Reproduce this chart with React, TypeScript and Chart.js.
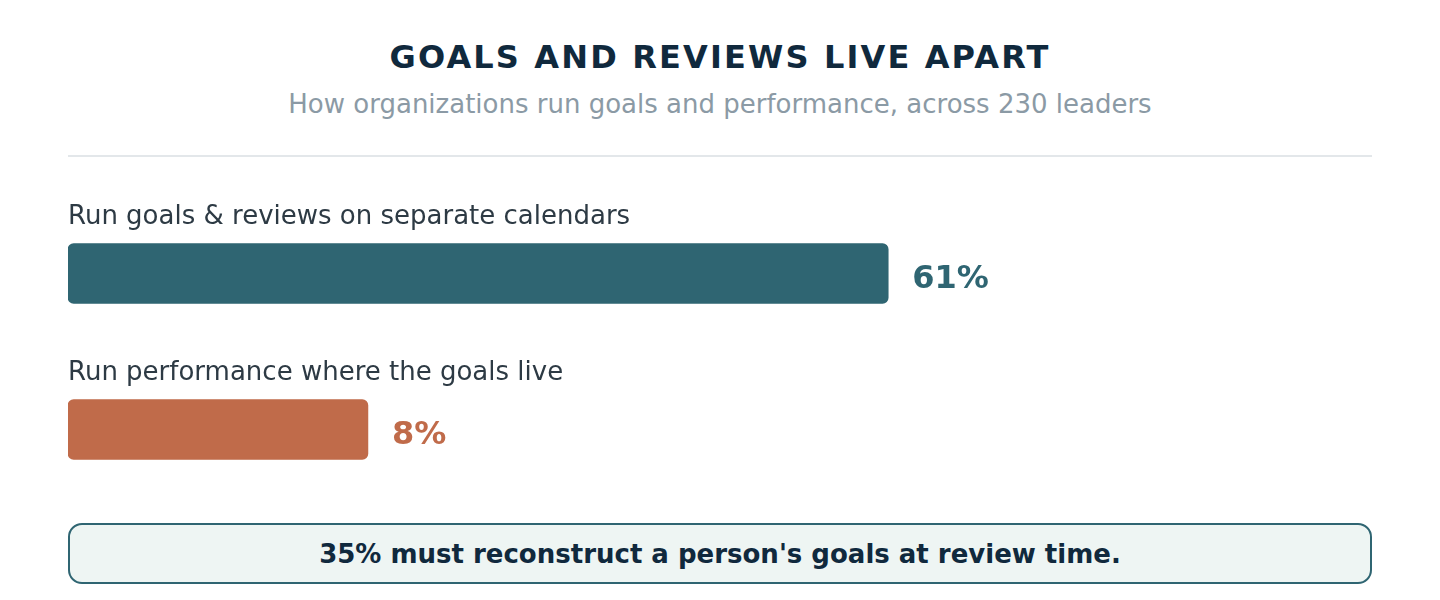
import { useEffect, useRef } from 'react';
import { Chart, registerables } from 'chart.js';

Chart.register(...registerables);

// survey answers, share of 230 leaders
const categories = ['Run goals & reviews on separate calendars', 'Run performance where the goals live'];
const shares = [61, 8];
// drawn bar length on a 0-100 track (the short bar is drawn wider than its share)
const barLengths = [62.9, 23];
const barColors = ['#2f6572', '#c06b4a'];

const FONT = '"DejaVu Sans", Verdana, sans-serif';

const labelPlugin = {
  id: 'barLabels',
  afterDatasetsDraw(chart: Chart) {
    const { ctx, chartArea } = chart;
    const meta = chart.getDatasetMeta(0);
    ctx.save();
    meta.data.forEach((bar: any, i: number) => {
      const top = bar.y - bar.height / 2;
      ctx.font = `26px ${FONT}`;
      ctx.fillStyle = '#2d3a44';
      ctx.textAlign = 'left';
      ctx.textBaseline = 'alphabetic';
      ctx.fillText(categories[i], chartArea.left, top - 20);

      ctx.font = `bold 32px ${FONT}`;
      ctx.fillStyle = barColors[i];
      ctx.fillText(`${shares[i]}%`, bar.x + 24, bar.y + 14.5);
    });
    ctx.restore();
  },
};

export default function App() {
  const canvasRef = useRef<HTMLCanvasElement>(null);
  const chartRef = useRef<Chart | null>(null);

  useEffect(() => {
    if (!canvasRef.current) return;
    if (chartRef.current) chartRef.current.destroy();

    chartRef.current = new Chart(canvasRef.current, {
      type: 'bar',
      data: {
        labels: categories,
        datasets: [
          {
            data: barLengths,
            backgroundColor: barColors,
            borderRadius: 6,
            borderSkipped: false,
            barThickness: 60,
          },
        ],
      },
      options: {
        indexAxis: 'y',
        animation: false,
        responsive: true,
        maintainAspectRatio: false,
        layout: { padding: { top: 25.5, bottom: 12.5, left: 0, right: 0 } },
        plugins: {
          legend: { display: false },
          tooltip: { enabled: false },
        },
        scales: {
          x: { display: false, min: 0, max: 100 },
          y: { display: false },
        },
      },
      plugins: [labelPlugin],
    });

    return () => {
      if (chartRef.current) {
        chartRef.current.destroy();
        chartRef.current = null;
      }
    };
  }, []);

  return (
    <div style={{ position: 'relative', height: 584, fontFamily: FONT }}>
      <div
        style={{
          position: 'absolute', top: 33, left: 0, right: 0, textAlign: 'center',
          fontSize: 32, lineHeight: '32px', fontWeight: 'bold', letterSpacing: 2.15, color: '#10293d',
        }}
      >
        GOALS AND REVIEWS LIVE APART
      </div>
      <div
        style={{
          position: 'absolute', top: 83, left: 0, right: 0, textAlign: 'center',
          fontSize: 26, lineHeight: '26px', color: '#8b9aa5',
        }}
      >
        How organizations run goals and performance, across 230 leaders
      </div>
      <div style={{ position: 'absolute', top: 147, left: 60, width: 1304, height: 2, background: '#e3e7ea' }} />
      <div style={{ position: 'absolute', top: 162, left: 60, width: 1304, height: 350 }}>
        <canvas ref={canvasRef}></canvas>
      </div>
      <div
        style={{
          position: 'absolute', top: 515, left: 60, width: 1304, height: 61, boxSizing: 'border-box',
          border: '2px solid #2f6572', borderRadius: 14, background: '#eef5f3',
          display: 'flex', alignItems: 'center', justifyContent: 'center',
          fontSize: 26, fontWeight: 'bold', color: '#10293d',
        }}
      >
        35% must reconstruct a person's goals at review time.
      </div>
    </div>
  );
}
